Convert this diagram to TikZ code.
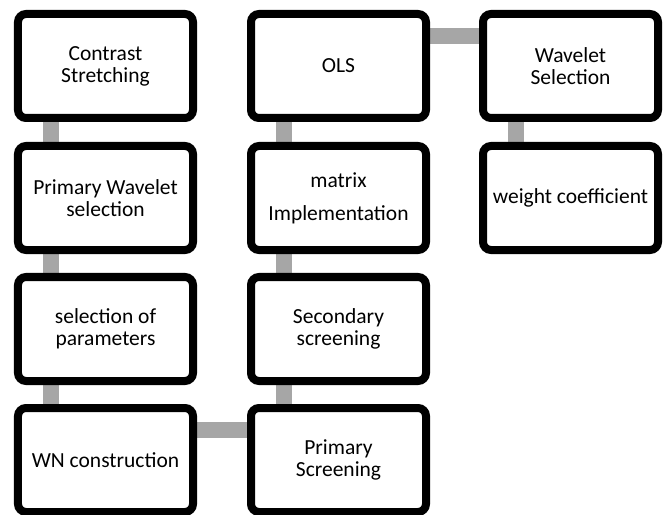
\documentclass[tikz,border=0pt]{standalone}
\usepackage{fontspec}
\setmainfont{Carlito}
\usetikzlibrary{calc,backgrounds,shadows}
\begin{document}
\begin{tikzpicture}[x=1bp,y=-1bp,
  stepbox/.style={draw=black, line width=8bp, rounded corners=8bp, fill=white,
    minimum width=175bp, minimum height=104bp, align=center, inner sep=2bp,
    font=\fontsize{21.5bp}{22bp}\selectfont,
    drop shadow={shadow xshift=1bp, shadow yshift=-3bp, fill=black, opacity=0.22}},
  conn/.style={draw=black!35, line width=16bp}]
\useasboundingbox (0,0) rectangle (670,515);
\node[stepbox] (cs) at (105.5,66) {Contrast\\Stretching};
\node[stepbox] (pw) at (105.5,198) {Primary Wavelet\\selection};
\node[stepbox] (sp) at (105.5,329) {selection of\\parameters};
\node[stepbox] (wn) at (105.5,460) {WN construction};
\node[stepbox] (ols) at (338.5,66) {OLS};
\node[stepbox] (mi) at (338.5,198) {matrix\\[11bp]Implementation};
\node[stepbox] (ss) at (338.5,329) {Secondary\\screening};
\node[stepbox] (ps) at (338.5,460) {Primary\\Screening};
\node[stepbox] (ws) at (570.5,66) {Wavelet\\Selection};
\node[stepbox] (wc) at (570.5,198) {weight coefficient};
\begin{scope}[on background layer]
  \draw[conn] ($(cs.south west)+(37,0)$) -- ($(pw.north west)+(37,0)$);
  \draw[conn] ($(pw.south west)+(37,0)$) -- ($(sp.north west)+(37,0)$);
  \draw[conn] ($(sp.south west)+(37,0)$) -- ($(wn.north west)+(37,0)$);
  \draw[conn] ($(wn.north east)+(0,26)$) -- ($(ps.north west)+(0,26)$);
  \draw[conn] ($(ps.north west)+(37,0)$) -- ($(ss.south west)+(37,0)$);
  \draw[conn] ($(ss.north west)+(37,0)$) -- ($(mi.south west)+(37,0)$);
  \draw[conn] ($(mi.north west)+(37,0)$) -- ($(ols.south west)+(37,0)$);
  \draw[conn] ($(ols.north east)+(0,26)$) -- ($(ws.north west)+(0,26)$);
  \draw[conn] ($(ws.south west)+(37,0)$) -- ($(wc.north west)+(37,0)$);
\end{scope}
\end{tikzpicture}
\end{document}
